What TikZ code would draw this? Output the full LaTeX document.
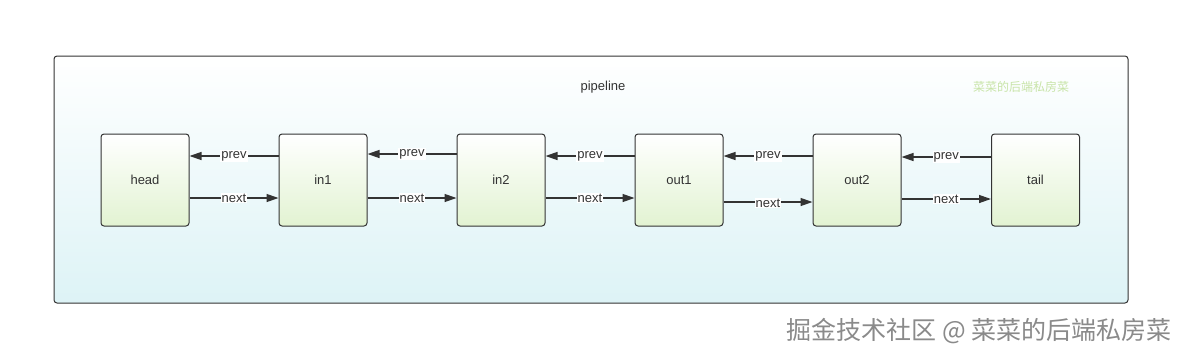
\documentclass[tikz,border=0pt]{standalone}
\usepackage{fontspec}
\setmainfont{Liberation Sans}
\newfontfamily\cjk{Noto Sans CJK SC}
\usetikzlibrary{arrows.meta}
\definecolor{edgec}{HTML}{333333}
\definecolor{contbot}{HTML}{DDF3F6}
\definecolor{boxbot}{HTML}{E2F3D2}
\definecolor{wmgreen}{HTML}{C8E4A8}
\definecolor{wmgray}{HTML}{8A8A8A}
\tikzset{
  container/.style={draw=edgec, line width=1pt, rounded corners=3pt, top color=white, bottom color=contbot},
  nodebox/.style={draw=edgec, line width=1pt, rounded corners=3pt, top color=white, bottom color=boxbot,
    minimum width=88pt, minimum height=92pt, inner sep=0pt, font=\fontsize{13}{15}\selectfont, text=edgec},
  arr/.style={draw=edgec, line width=1.3pt, -{Triangle[length=12pt,width=8pt]}},
  lab/.style={fill=white, inner sep=1pt, font=\fontsize{13}{15}\selectfont, text=edgec},
}
\begin{document}
\begin{tikzpicture}[x=1pt,y=-1pt]
\useasboundingbox (0,0) rectangle (1187,360);
\fill[white] (0,0) rectangle (1187,360);
\node[container, minimum width=1074pt, minimum height=247pt, inner sep=0pt] (pipe) at (591,179.5) {};
\node[font=\fontsize{13}{15}\selectfont, text=edgec] (title) at (603,87) {pipeline};
\node[font=\cjk\fontsize{12}{14}\selectfont, text=wmgreen] (wm) at (1021,87) {菜菜的后端私房菜};
\node[nodebox] (head) at (145,180) {head};
\node[nodebox] (in1) at (323,180) {in1};
\node[nodebox] (in2) at (501,180) {in2};
\node[nodebox] (out1) at (679,180) {out1};
\node[nodebox] (out2) at (857,180) {out2};
\node[nodebox] (tail) at (1035.5,180) {tail};
% head - in1
\draw[arr] ([yshift=24pt]in1.west) -- node[lab]{prev} ([yshift=24pt]head.east);
\draw[arr] ([yshift=-18pt]head.east) -- node[lab]{next} ([yshift=-18pt]in1.west);
% in1 - in2
\draw[arr] ([yshift=26pt]in2.west) -- node[lab]{prev} ([yshift=26pt]in1.east);
\draw[arr] ([yshift=-18pt]in1.east) -- node[lab]{next} ([yshift=-18pt]in2.west);
% in2 - out1
\draw[arr] ([yshift=24pt]out1.west) -- node[lab]{prev} ([yshift=24pt]in2.east);
\draw[arr] ([yshift=-18pt]in2.east) -- node[lab]{next} ([yshift=-18pt]out1.west);
% out1 - out2
\draw[arr] ([yshift=24pt]out2.west) -- node[lab]{prev} ([yshift=24pt]out1.east);
\draw[arr] ([yshift=-22pt]out1.east) -- node[lab, yshift=-1pt]{next} ([yshift=-22pt]out2.west);
% out2 - tail
\draw[arr] ([yshift=23pt]tail.west) -- node[lab]{prev} ([yshift=23pt]out2.east);
\draw[arr] ([yshift=-19pt]out2.east) -- node[lab]{next} ([yshift=-19pt]tail.west);
% footer watermark
\node[font=\cjk\fontsize{25}{28}\selectfont, text=wmgray, anchor=east] (foot) at (1175,331) {掘金技术社区 @ 菜菜的后端私房菜};
\end{tikzpicture}
\end{document}
